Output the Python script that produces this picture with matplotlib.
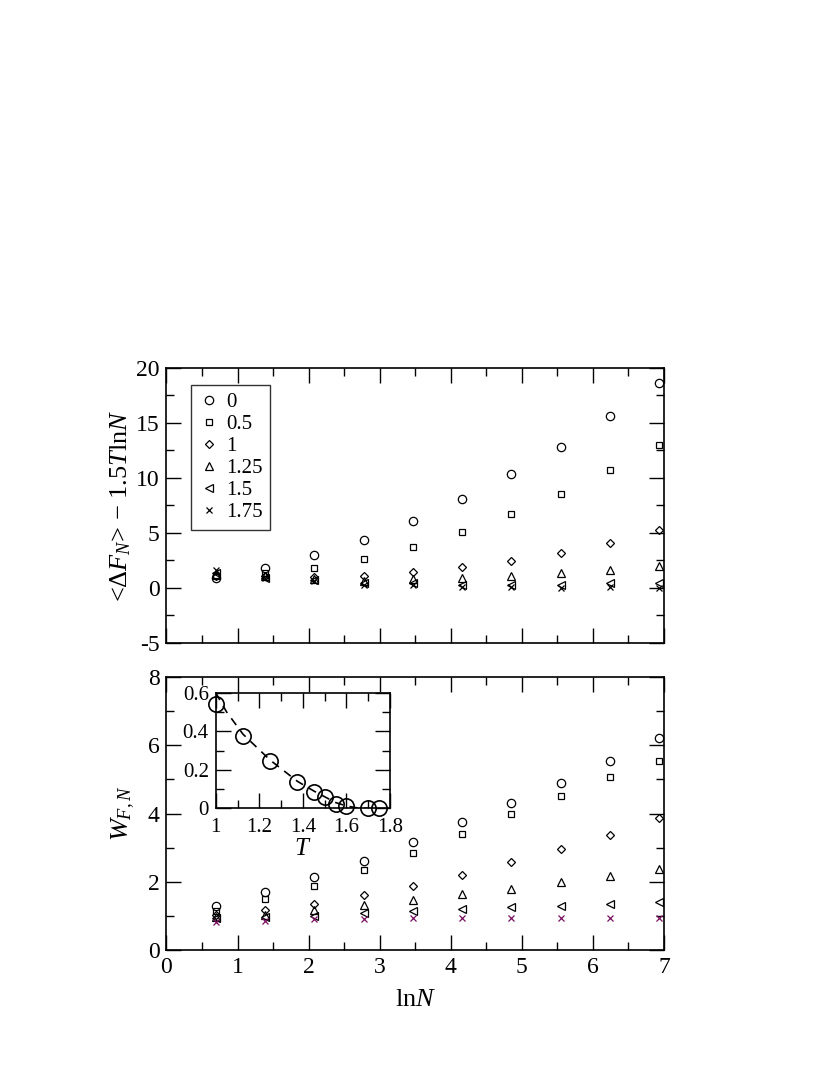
import matplotlib
matplotlib.use("Agg")
import matplotlib.pyplot as plt
from matplotlib.ticker import MultipleLocator

plt.rcParams['font.family'] = ['Liberation Serif', 'DejaVu Serif']
plt.rcParams['mathtext.fontset'] = 'custom'
plt.rcParams['mathtext.rm'] = 'Liberation Serif'
plt.rcParams['mathtext.it'] = 'Liberation Serif:italic'
plt.rcParams['axes.unicode_minus'] = False

# ln N for N = 2, 4, ..., 1024
lnN = [0.693, 1.386, 2.079, 2.773, 3.466, 4.159, 4.852, 5.545, 6.238, 6.931]
temps = ['0', '0.5', '1', '1.25', '1.5', '1.75']

# top panel: <dF_N> - 1.5 T lnN
dF = {
    '0':    [0.95, 1.82, 2.97, 4.34, 6.06, 8.10, 10.37, 12.85, 15.67, 18.64],
    '0.5':  [1.05, 1.36, 1.82, 2.64, 3.70, 5.12, 6.76, 8.58, 10.76, 13.04],
    '1':    [1.10, 1.10, 1.00, 1.13, 1.45, 1.88, 2.49, 3.21, 4.12, 5.25],
    '1.25': [1.25, 1.05, 0.85, 0.65, 0.85, 0.94, 1.10, 1.37, 1.67, 2.00],
    '1.5':  [1.40, 0.95, 0.70, 0.45, 0.45, 0.30, 0.30, 0.28, 0.49, 0.49],
    '1.75': [1.60, 0.95, 0.60, 0.30, 0.24, 0.10, 0.05, 0.00, 0.10, 0.00],
}

# bottom panel: W_{F,N}
W = {
    '0':    [1.29, 1.69, 2.13, 2.62, 3.16, 3.74, 4.32, 4.90, 5.54, 6.20],
    '0.5':  [1.14, 1.49, 1.87, 2.34, 2.83, 3.40, 4.00, 4.51, 5.08, 5.54],
    '1':    [1.02, 1.17, 1.36, 1.61, 1.87, 2.21, 2.57, 2.96, 3.36, 3.88],
    '1.25': [0.97, 1.02, 1.17, 1.33, 1.47, 1.63, 1.80, 1.98, 2.17, 2.38],
    '1.5':  [0.93, 0.98, 1.01, 1.09, 1.15, 1.20, 1.25, 1.29, 1.34, 1.41],
    '1.75': [0.83, 0.86, 0.90, 0.92, 0.93, 0.93, 0.93, 0.93, 0.93, 0.93],
}

# inset
T_in = [1.0, 1.125, 1.25, 1.375, 1.45, 1.5, 1.55, 1.6, 1.7, 1.75]
W_in = [0.54, 0.377, 0.246, 0.138, 0.087, 0.057, 0.022, 0.012, 0.0, 0.0]
T_fit = [1.0, 1.05, 1.125, 1.25, 1.375, 1.45, 1.5, 1.55, 1.6, 1.65, 1.7]
W_fit = [0.60, 0.50, 0.385, 0.25, 0.14, 0.09, 0.06, 0.03, 0.012, 0.002, 0.0]

markers = {'0': 'o', '0.5': 's', '1': 'D', '1.25': '^', '1.5': '<', '1.75': 'x'}
msizes = {'0': 6, '0.5': 5, '1': 4.5, '1.25': 5.5, '1.5': 5.5, '1.75': 4.5}


def style_axes(ax, xmaj, xmin, ymaj, ymin, lsize=17):
    ax.xaxis.set_major_locator(MultipleLocator(xmaj))
    ax.xaxis.set_minor_locator(MultipleLocator(xmin))
    ax.yaxis.set_major_locator(MultipleLocator(ymaj))
    ax.yaxis.set_minor_locator(MultipleLocator(ymin))
    ax.tick_params(which='major', direction='in', top=True, right=True, length=11, width=1.0,
                   labelsize=lsize, pad=5)
    ax.tick_params(which='minor', direction='in', top=True, right=True, length=6, width=1.0)
    for s in ax.spines.values():
        s.set_linewidth(1.2)


fig = plt.figure(figsize=(8.3, 10.75), dpi=100)
ax1 = fig.add_axes([0.2006, 0.4019, 0.5994, 0.2558])
ax2 = fig.add_axes([0.2006, 0.1163, 0.5994, 0.2539])

for t in temps:
    ax1.plot(lnN, dF[t], linestyle='none', marker=markers[t], ms=msizes[t],
             mfc='none', mec='black', mew=0.9, label=t)
    c = '#7a1060' if t == '1.75' else 'black'
    ax2.plot(lnN, W[t], linestyle='none', marker=markers[t], ms=msizes[t],
             mfc='none', mec=c, mew=0.9)

ax1.set_xlim(0, 7)
ax1.set_ylim(-5, 20)
ax1.tick_params(labelbottom=False)
style_axes(ax1, 1, 0.5, 5, 2.5)
ax1.set_ylabel(r'<$\Delta F_N$> $-$ 1.5$T$ln$N$', fontsize=19, labelpad=2)
leg = ax1.legend(loc='upper left', bbox_to_anchor=(0.0486, 0.938), fontsize=15, frameon=True,
                 fancybox=False, edgecolor='black', handletextpad=0.25, labelspacing=0.12,
                 borderpad=0.35, handlelength=1.1, borderaxespad=0)
leg.get_frame().set_linewidth(1.0)

ax2.set_xlim(0, 7)
ax2.set_ylim(0, 8)
style_axes(ax2, 1, 0.5, 2, 1)
ax2.set_xlabel(r'ln$N$', fontsize=19, labelpad=8)
ax2.set_ylabel(r'$W_{F,N}$', fontsize=19, labelpad=8)

ax3 = fig.add_axes([0.2599, 0.2481, 0.21, 0.1075])
ax3.plot(T_fit, W_fit, linestyle=(0, (5, 4)), color='black', lw=1.2, clip_on=True)
ax3.plot(T_in, W_in, linestyle='none', marker='o', ms=11, mfc='none', mec='black', mew=1.2,
         clip_on=False)
ax3.set_xlim(1, 1.8)
ax3.set_ylim(0, 0.6)
style_axes(ax3, 0.2, 0.1, 0.2, 0.1, lsize=15)
ax3.tick_params(axis='x', pad=7)
ax3.set_xticks([1, 1.2, 1.4, 1.6, 1.8])
ax3.set_xticklabels(['1', '1.2', '1.4', '1.6', '1.8'])
ax3.set_yticks([0, 0.2, 0.4, 0.6])
ax3.set_yticklabels(['0', '0.2', '0.4', '0.6'])
ax3.set_xlabel(r'$T$', fontsize=18, labelpad=1)

fig.savefig('out.png', dpi=100)
